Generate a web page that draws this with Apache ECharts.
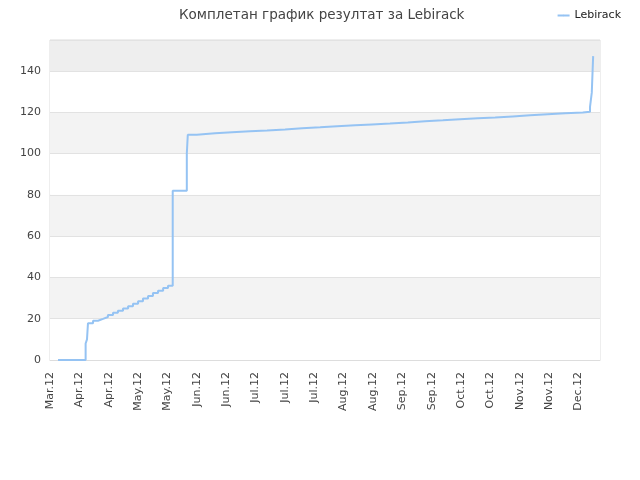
<!DOCTYPE html>
<html>
<head>
<meta charset="utf-8">
<script src="https://cdn.jsdelivr.net/npm/echarts@6/dist/echarts.min.js"></script>
<style>html,body{margin:0;padding:0;background:#fff}#c{width:640px;height:480px}</style>
</head>
<body>
<div id="c"></div>
<script>
var tickLabels = ['Mar.12','Apr.12','Apr.12','May.12','May.12','Jun.12','Jun.12','Jul.12','Jul.12','Jul.12','Aug.12','Aug.12','Sep.12','Sep.12','Oct.12','Oct.12','Nov.12','Nov.12','Dec.12'];
var days = [4.1, 18.2, 18.9, 19.4, 22.0, 24.5, 27.1, 29.6, 32.2, 34.7, 37.3, 39.9, 42.4, 45.0, 47.5, 50.1, 52.6, 55.2, 57.8, 60.3, 62.7, 62.7, 69.9, 70.4, 75.0, 84.3, 93.0, 102.2, 110.9, 120.1, 128.8, 138.0, 146.7, 155.9, 164.5, 173.7, 182.8, 191.6, 200.7, 209.5, 218.6, 227.4, 236.4, 245.3, 254.3, 263.2, 272.2, 275.9, 276.8, 277.5];
var values = [0, 8, 10, 17.8, 19.0, 19.9, 20.8, 21.8, 22.9, 23.9, 24.9, 26.0, 27.2, 28.5, 29.8, 31.0, 32.4, 33.6, 34.9, 36.0, 37.1, 82, 100, 109.1, 109.8, 110.3, 110.8, 111.2, 111.7, 112.2, 112.7, 113.2, 113.7, 114.1, 114.5, 115.0, 115.6, 116.1, 116.6, 117.1, 117.5, 118.0, 118.5, 119.0, 119.5, 119.9, 120.3, 122.6, 129.5, 147.2];
var seriesName = 'Lebirack';
var titleText = 'Комплетан график резултат за Lebirack';

var data = days.map(function (d, i) { return [d, values[i]]; });
var chart = echarts.init(document.getElementById('c'), null, {renderer: 'canvas'});
chart.setOption({
  animation: false,
  backgroundColor: '#fff',
  textStyle: {fontFamily: 'DejaVu Sans'},
  title: {
    text: titleText, left: 174, top: 3,
    textStyle: {fontSize: 13.5, fontWeight: 'normal', color: '#444', fontFamily: 'DejaVu Sans'}
  },
  legend: {
    data: [seriesName], right: 14, top: 5, itemWidth: 12, itemHeight: 2,
    textStyle: {fontSize: 11, color: '#222', fontFamily: 'DejaVu Sans'}
  },
  grid: {left: 50, right: 40, top: 40, bottom: 120, show: true, borderColor: '#dddddd', borderWidth: 1, containLabel: false},
  xAxis: {
    type: 'value', min: 0, max: 281, interval: 15,
    axisLine: {show: true, lineStyle: {color: '#dddddd'}},
    axisTick: {show: false},
    splitLine: {show: false},
    axisLabel: {
      rotate: 90, margin: 12, fontSize: 11, color: '#444', fontFamily: 'DejaVu Sans',
      formatter: function (v) { return (v % 15 === 0 && tickLabels[v / 15]) ? tickLabels[v / 15] : ''; }
    }
  },
  yAxis: {
    type: 'value', min: 0, max: 155, interval: 20,
    axisLine: {show: false}, axisTick: {show: false},
    splitLine: {show: true, lineStyle: {color: '#e2e2e2'}},
    splitArea: {show: true, areaStyle: {color: ['#ffffff', '#f3f3f3', '#ffffff', '#f3f3f3', '#ffffff', '#f3f3f3', '#ffffff', '#eeeeee']}},
    axisLabel: {
      margin: 9, fontSize: 11, color: '#444', fontFamily: 'DejaVu Sans',
      formatter: function (v) { return v % 20 === 0 ? String(v) : ''; }
    }
  },
  series: [{
    name: seriesName, type: 'line', step: 'end', data: data,
    symbol: 'none', showSymbol: false,
    lineStyle: {color: '#95c3f3', width: 2},
    itemStyle: {color: '#95c3f3'}
  }]
});
</script>
</body>
</html>
